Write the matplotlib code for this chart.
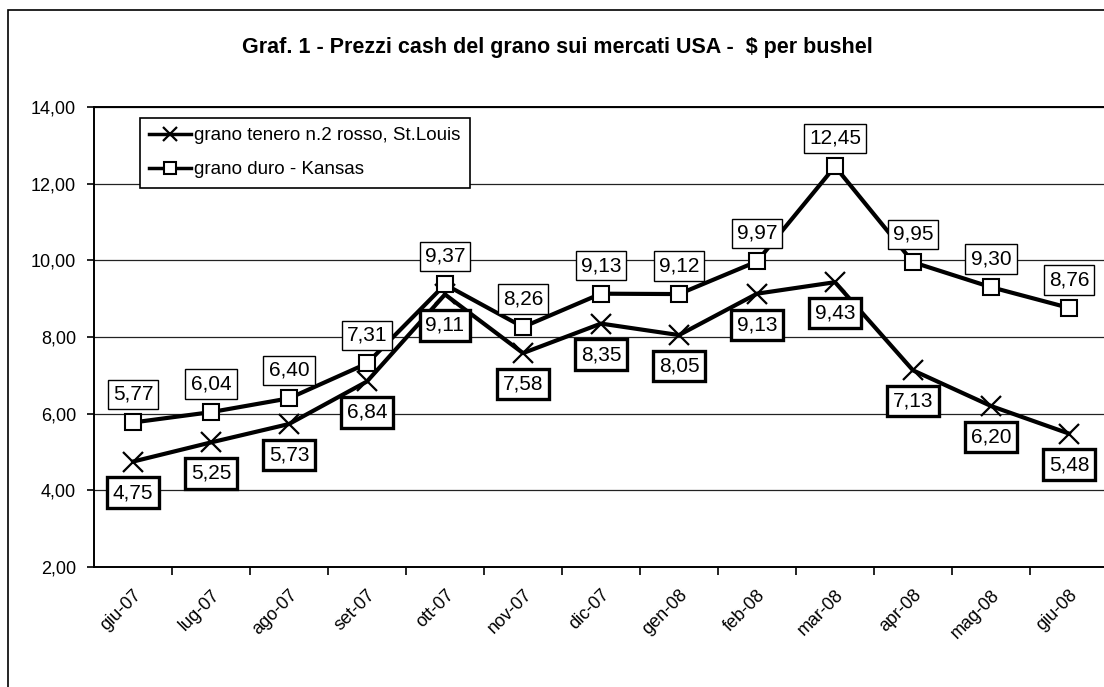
import matplotlib
matplotlib.use("Agg")
import matplotlib.pyplot as plt
from matplotlib.patches import Rectangle

months = ["giu-07", "lug-07", "ago-07", "set-07", "ott-07", "nov-07", "dic-07",
          "gen-08", "feb-08", "mar-08", "apr-08", "mag-08", "giu-08"]
tenero = [4.75, 5.25, 5.73, 6.84, 9.11, 7.58, 8.35, 8.05, 9.13, 9.43, 7.13, 6.20, 5.48]
duro = [5.77, 6.04, 6.40, 7.31, 9.37, 8.26, 9.13, 9.12, 9.97, 12.45, 9.95, 9.30, 8.76]
yticks = [2, 4, 6, 8, 10, 12, 14]
title = "Graf. 1 - Prezzi cash del grano sui mercati USA -  $ per bushel"
name_tenero = "grano tenero n.2 rosso, St.Louis"
name_duro = "grano duro - Kansas"

plt.rcParams['font.family'] = ['Liberation Sans', 'DejaVu Sans']

W, H = 1104, 687
fig = plt.figure(figsize=(W / 100, H / 100), dpi=100)

# outer chart border
fig.add_artist(Rectangle((8 / W, -0.05), 1.2, 1 - 10 / H + 0.05, transform=fig.transFigure,
                         fill=False, edgecolor='black', lw=1.2))

ax = fig.add_axes([94 / W, 1 - 567 / H, (1108 - 94) / W, (567 - 107) / H])
x = list(range(len(months)))

ax.set_xlim(-0.5, len(months) - 0.5)
ax.set_ylim(2, 14)
ax.set_yticks(yticks)
ax.set_yticklabels([f"{v:.2f}".replace('.', ',') for v in yticks], fontsize=13)
ax.yaxis.grid(True, color='#222222', lw=0.9)
ax.set_axisbelow(True)
ax.set_xticks(x)
ax.set_xticklabels(months, rotation=45, ha='right', rotation_mode='anchor', fontsize=13)
ax.set_xticks([i + 0.5 for i in x[:-1]], minor=True)
ax.tick_params(axis='x', which='major', length=0, pad=14)
ax.tick_params(axis='x', which='minor', length=6, width=1.2, direction='out')
ax.tick_params(axis='y', length=5, width=1.2, direction='out', pad=8)
for s in ['left', 'bottom', 'top']:
    ax.spines[s].set_linewidth(1.4)
    ax.spines[s].set_color('black')
ax.spines['right'].set_visible(False)

l1, = ax.plot(x, tenero, color='black', lw=3, marker='x', ms=14, mew=1.6,
              mec='black', label=name_tenero, zorder=3)
l2, = ax.plot(x, duro, color='black', lw=3, marker='s', ms=12, mew=1.5,
              mec='black', mfc='white', label=name_duro, zorder=4)

for xi, v in zip(x, duro):
    ax.annotate(f"{v:.2f}".replace('.', ','), (xi, v), xytext=(0, 28), textcoords='offset pixels',
                ha='center', va='center', fontsize=15, zorder=6,
                bbox=dict(boxstyle='square,pad=0.25', fc='white', ec='black', lw=1.0))
for xi, v in zip(x, tenero):
    ax.annotate(f"{v:.2f}".replace('.', ','), (xi, v), xytext=(0, -31), textcoords='offset pixels',
                ha='center', va='center', fontsize=15, zorder=5,
                bbox=dict(boxstyle='square,pad=0.27', fc='white', ec='black', lw=2.4))

leg = ax.legend(handles=[l1, l2], loc='upper left', bbox_to_anchor=((140 - 94) / (1108 - 94), 1 - (118 - 107) / 460),
                fontsize=13.5, frameon=True, fancybox=False, edgecolor='black', framealpha=1,
                handlelength=2.2, handletextpad=0.2, borderpad=0.5, labelspacing=0.9,
                markerscale=0.75, borderaxespad=0)
leg.get_frame().set_linewidth(1.2)
for h in leg.legend_handles:
    h.set_linewidth(2.5)

fig.text(557 / W, 1 - 47 / H, title, ha='center', va='center', fontsize=15.5, fontweight='bold',
         family=['Liberation Sans Narrow', 'Liberation Sans', 'DejaVu Sans'])

fig.savefig("out.png", dpi=100)
